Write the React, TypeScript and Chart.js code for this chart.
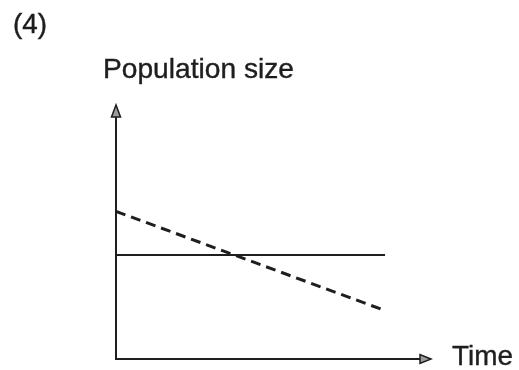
import { useEffect, useRef } from "react";
import { Chart, registerables } from "chart.js";

Chart.register(...registerables);

// Time runs along x, population size along y (arbitrary units).
const timePoints = [0, 10];
const constantPopulation = [4.3, 4.3];
const decliningPopulation = [6.1, 2.0];
const xAxisMax = 11.3;
const yAxisMax = 10;

const panelLabel = "(4)";
const yAxisLabel = "Population size";
const xAxisLabel = "Time";

const INK = "#1e1e1e";

// Draws text with its left edge at x and its baseline at y, stretched to a given width.
function drawFittedText(
  ctx: CanvasRenderingContext2D,
  text: string,
  x: number,
  y: number,
  fontPx: number,
  width: number
) {
  ctx.save();
  ctx.font = `${fontPx}px "Liberation Sans", Arial, sans-serif`;
  ctx.textBaseline = "alphabetic";
  ctx.textAlign = "left";
  const natural = ctx.measureText(text).width;
  ctx.translate(x, y);
  ctx.scale(width / natural, 1);
  ctx.fillStyle = INK;
  ctx.strokeStyle = INK;
  ctx.lineWidth = 0.4;
  ctx.fillText(text, 0, 0);
  ctx.strokeText(text, 0, 0);
  ctx.restore();
}

// Plain L-shaped axes with arrowheads, plus the free-standing labels.
const arrowAxes = {
  id: "arrowAxes",
  beforeDatasetsDraw(chart: Chart) {
    const { ctx, chartArea } = chart;
    const { left, right, top, bottom } = chartArea;
    ctx.save();
    ctx.strokeStyle = INK;
    ctx.lineWidth = 2;
    ctx.lineCap = "butt";
    ctx.beginPath();
    ctx.moveTo(left, top);
    ctx.lineTo(left, bottom);
    ctx.lineTo(right, bottom);
    ctx.stroke();

    ctx.fillStyle = "#9c9c9c";
    ctx.lineWidth = 1.5;
    ctx.lineJoin = "miter";
    // up arrow on the y axis
    ctx.beginPath();
    ctx.moveTo(left, top - 12);
    ctx.lineTo(left - 4.5, top);
    ctx.lineTo(left + 4.5, top);
    ctx.closePath();
    ctx.fill();
    ctx.stroke();
    // right arrow on the x axis
    ctx.beginPath();
    ctx.moveTo(right + 11, bottom);
    ctx.lineTo(right, bottom - 4.5);
    ctx.lineTo(right, bottom + 4.5);
    ctx.closePath();
    ctx.fill();
    ctx.stroke();
    ctx.restore();
  },
  afterDraw(chart: Chart) {
    const { ctx, chartArea } = chart;
    drawFittedText(ctx, panelLabel, 13, 33, 27, 34);
    drawFittedText(ctx, yAxisLabel, chartArea.left - 13, 78, 28, 191);
    drawFittedText(ctx, xAxisLabel, chartArea.right + 32, 365, 28, 61);
  },
};

export default function App() {
  const canvasRef = useRef<HTMLCanvasElement | null>(null);

  useEffect(() => {
    const canvas = canvasRef.current;
    if (!canvas) return;
    const chart = new Chart(canvas, {
      type: "line",
      data: {
        datasets: [
          {
            label: "constant",
            data: timePoints.map((t, i) => ({ x: t, y: constantPopulation[i] })),
            borderColor: INK,
            borderWidth: 2,
            pointRadius: 0,
            fill: false,
          },
          {
            label: "declining",
            data: timePoints.map((t, i) => ({ x: t, y: decliningPopulation[i] })),
            borderColor: INK,
            borderWidth: 3,
            borderDash: [10, 6],
            pointRadius: 0,
            fill: false,
          },
        ],
      },
      options: {
        animation: false,
        responsive: false,
        devicePixelRatio: 1,
        layout: { padding: { left: 116, top: 117, right: 99, bottom: 11 } },
        plugins: {
          legend: { display: false },
          tooltip: { enabled: false },
          title: { display: false },
        },
        scales: {
          x: { type: "linear", min: 0, max: xAxisMax, display: false },
          y: { type: "linear", min: 0, max: yAxisMax, display: false },
        },
      },
      plugins: [arrowAxes],
    });
    return () => chart.destroy();
  }, []);

  return (
    <div
      style={{
        position: "fixed",
        left: 0,
        top: 0,
        width: 519,
        height: 370,
        background: "#ffffff",
      }}
    >
      <canvas ref={canvasRef} width={519} height={370} />
    </div>
  );
}
